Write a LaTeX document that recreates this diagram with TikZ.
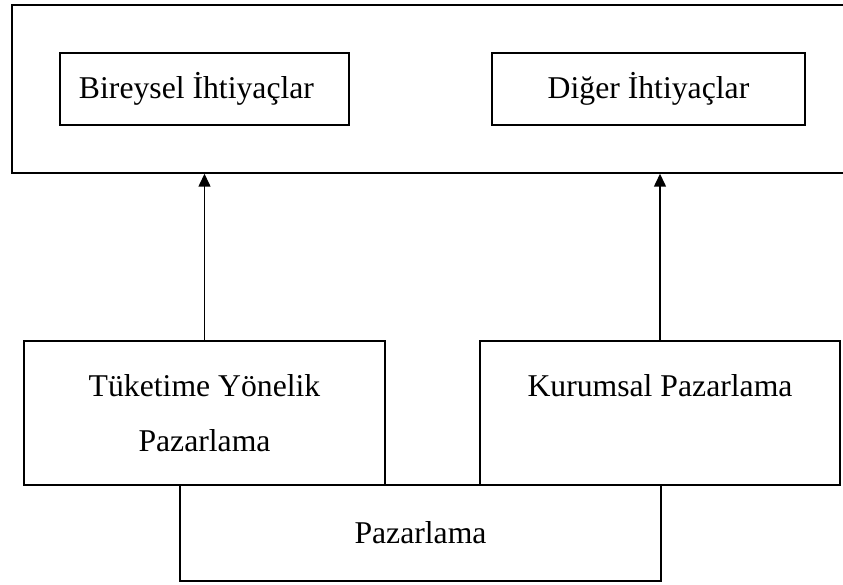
\documentclass[tikz,border=0pt]{standalone}
\usepackage{fontspec}
\setmainfont{Liberation Serif}
\usetikzlibrary{arrows.meta}

\tikzset{
    box/.style={draw, line width=1.5pt, inner sep=0pt, align=center,
        font=\fontsize{31.7}{55}\selectfont},
    uparrow/.style={line width=1.5pt, -{Triangle[length=13pt,width=12pt]}}
}

\begin{document}
\begin{tikzpicture}[x=1pt,y=1pt]
    % Page frame
    \useasboundingbox (0,0) rectangle (843,585);
    \clip (0,0) rectangle (843,585);

    % Needs (top container and its two boxes)
    \node[box, minimum width=834pt, minimum height=168pt] (needs) at (429,496) {};
    \node[box, minimum width=289pt, minimum height=72pt] (bireysel) at (204.5,496) {Bireysel İhtiyaçlar\hspace*{16pt}};
    \node[box, minimum width=313pt, minimum height=72pt] (diger) at (648.5,496) {Diğer İhtiyaçlar};

    % Marketing boxes
    \node[box, minimum width=361pt, minimum height=144pt] (tuketim) at (204.5,172) {Tüketime Yönelik\\Pazarlama};
    \node[box, minimum width=360pt, minimum height=144pt] (kurumsal) at (660,172) {Kurumsal Pazarlama\\~};
    \node[box, minimum width=481pt, minimum height=96pt] (pazarlama) at (420.5,52) {Pazarlama};

    % Arrows up to the needs
    \draw[uparrow] (tuketim.north) -- (tuketim.north |- needs.south);
    \draw[uparrow] (kurumsal.north) -- (kurumsal.north |- needs.south);
\end{tikzpicture}
\end{document}
